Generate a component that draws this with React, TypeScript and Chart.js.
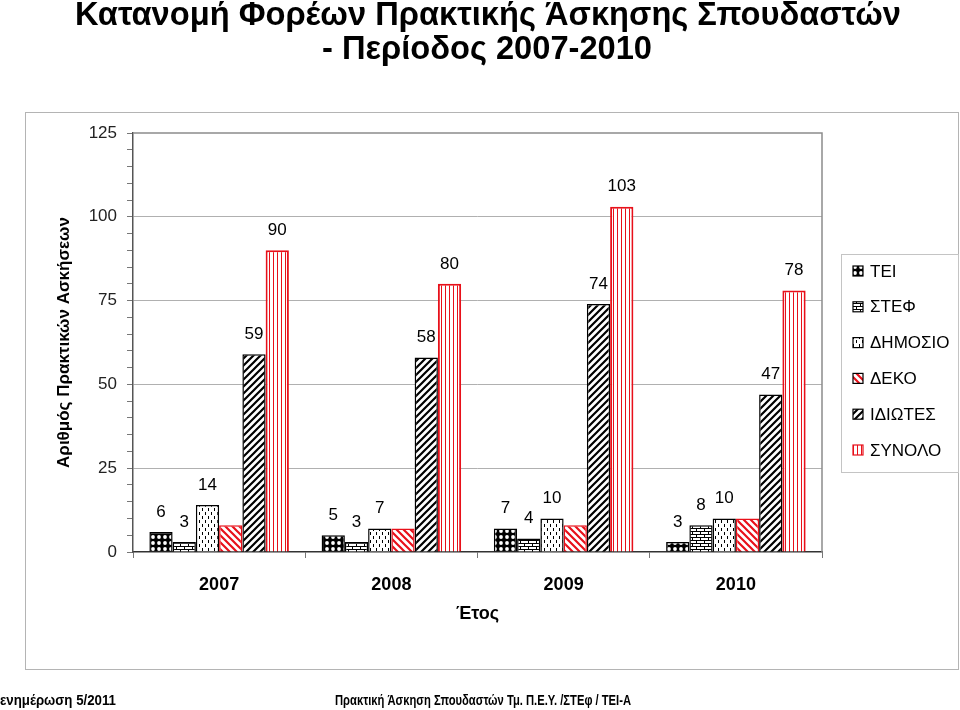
import React, { useEffect, useRef } from "react";
import { Chart, registerables } from "chart.js";
Chart.register(...registerables);

const years = ["2007", "2008", "2009", "2010"];
const seriesNames = ["ΤΕΙ", "ΣΤΕΦ", "ΔΗΜΟΣΙΟ", "ΔΕΚΟ", "ΙΔΙΩΤΕΣ", "ΣΥΝΟΛΟ"];
const tei = [6, 5, 7, 3];
const stef = [3, 3, 4, 8];
const dimosio = [14, 7, 10, 10];
const deko = [8, 7, 8, 10];
const idiotes = [59, 58, 74, 47];
const synolo = [90, 80, 103, 78];
const showValueLabels = [true, true, true, false, true, true];
const yMax = 125;
const yMajorStep = 25;
const yMinorStep = 5;

const titleLines = ["Κατανομή Φορέων Πρακτικής Άσκησης Σπουδαστών", "- Περίοδος 2007-2010"];
const yTitle = "Αριθμός Πρακτικών Ασκήσεων";
const xTitle = "Έτος";
const footerLeft = "ενημέρωση 5/2011";
const footerCenter = "Πρακτική Άσκηση Σπουδαστών Τμ. Π.Ε.Υ. /ΣΤΕφ / ΤΕΙ-Α";

const FONT = "'Liberation Sans', Arial, sans-serif";
const NARROW = "'Liberation Sans Narrow', 'Liberation Sans', Arial, sans-serif";
const RED = "#e8101a";

function makePattern(ctx: CanvasRenderingContext2D, w: number, h: number, draw: (c: CanvasRenderingContext2D) => void) {
  const t = document.createElement("canvas");
  t.width = w;
  t.height = h;
  const c = t.getContext("2d")!;
  draw(c);
  return ctx.createPattern(t, "repeat")!;
}

function buildPatterns(ctx: CanvasRenderingContext2D) {
  const teiP = makePattern(ctx, 6, 6, (c) => {
    c.fillStyle = "#000";
    c.fillRect(0, 0, 6, 6);
    c.fillStyle = "#fff";
    c.beginPath();
    c.arc(3, 3, 1.9, 0, Math.PI * 2);
    c.fill();
  });
  const stefP = makePattern(ctx, 8, 6, (c) => {
    c.fillStyle = "#fff";
    c.fillRect(0, 0, 8, 6);
    c.fillStyle = "#000";
    c.fillRect(0, 0, 8, 1);
    c.fillRect(0, 3, 8, 1);
    c.fillRect(0, 0, 1, 3);
    c.fillRect(4, 3, 1, 3);
  });
  const dimP = makePattern(ctx, 6, 8, (c) => {
    c.fillStyle = "#fff";
    c.fillRect(0, 0, 6, 8);
    c.fillStyle = "#000";
    c.fillRect(1, 0, 1, 3);
    c.fillRect(4, 4, 1, 3);
  });
  const diag = (color: string, back: boolean) =>
    makePattern(ctx, 7, 7, (c) => {
      c.fillStyle = "#fff";
      c.fillRect(0, 0, 7, 7);
      c.strokeStyle = color;
      c.lineWidth = 2.2;
      c.beginPath();
      if (back) {
        for (const o of [-7, 0, 7]) {
          c.moveTo(o - 1, -1);
          c.lineTo(o + 8, 8);
        }
      } else {
        for (const o of [-7, 0, 7]) {
          c.moveTo(o - 1, 8);
          c.lineTo(o + 8, -1);
        }
      }
      c.stroke();
    });
  const dekoP = diag(RED, true);
  const idP = diag("#000", false);
  const synP = makePattern(ctx, 4, 4, (c) => {
    c.fillStyle = "#fff";
    c.fillRect(0, 0, 4, 4);
    c.fillStyle = RED;
    c.fillRect(1, 0, 1, 4);
  });
  return [teiP, stefP, dimP, dekoP, idP, synP];
}

const framePlugin = {
  id: "frame",
  beforeDraw(chart: any) {
    const c = chart.ctx as CanvasRenderingContext2D;
    c.save();
    c.fillStyle = "#fff";
    c.fillRect(0, 0, chart.width, chart.height);
    c.strokeStyle = "#b4b4b4";
    c.lineWidth = 1;
    c.strokeRect(25.5, 112.5, 933, 557);
    // titles
    c.fillStyle = "#000";
    c.textAlign = "center";
    c.textBaseline = "middle";
    c.font = `bold 33px ${FONT}`;
    c.fillText(titleLines[0], 488, 16, 826);
    c.fillText(titleLines[1], 487, 50, 330);
    // footer
    c.font = `bold 15px ${NARROW}`;
    c.textAlign = "left";
    c.textBaseline = "alphabetic";
    c.fillText(footerLeft, 0, 705, 116);
    c.fillText(footerCenter, 335, 705, 296);
    c.restore();
  },
  beforeDatasetsDraw(chart: any) {
    const a = chart.chartArea;
    const c = chart.ctx as CanvasRenderingContext2D;
    c.save();
    c.strokeStyle = "#8c8c8c";
    c.lineWidth = 1.5;
    c.beginPath();
    c.moveTo(a.left, a.top);
    c.lineTo(a.right, a.top);
    c.lineTo(a.right, a.bottom);
    c.stroke();
    c.restore();
  },
  afterDatasetsDraw(chart: any) {
    const c = chart.ctx as CanvasRenderingContext2D;
    c.save();
    c.fillStyle = "#000";
    c.font = `17px ${FONT}`;
    c.textAlign = "center";
    c.textBaseline = "middle";
    chart.data.datasets.forEach((ds: any, di: number) => {
      if (!showValueLabels[di]) return;
      const meta = chart.getDatasetMeta(di);
      meta.data.forEach((el: any, i: number) => {
        c.fillText(String(ds.data[i]), el.x, el.y - 20);
      });
    });
    // legend
    c.strokeStyle = "#c4c4c4";
    c.lineWidth = 1;
    c.strokeRect(841.5, 254.5, 117, 218);
    c.font = `17px ${FONT}`;
    c.textAlign = "left";
    chart.data.datasets.forEach((ds: any, di: number) => {
      const y = 271 + di * 35.8;
      c.fillStyle = ds.backgroundColor;
      c.fillRect(853, y - 5, 10, 10);
      c.strokeStyle = ds.legendBorder;
      c.lineWidth = 1.2;
      c.strokeRect(853, y - 5, 10, 10);
      c.fillStyle = "#000";
      c.fillText(ds.label, 870, y + 1);
    });
    c.restore();
  },
};

export default function App() {
  const ref = useRef<HTMLCanvasElement | null>(null);
  useEffect(() => {
    const canvas = ref.current!;
    const ctx = canvas.getContext("2d")!;
    const pats = buildPatterns(ctx);
    const values = [tei, stef, dimosio, deko, idiotes, synolo];
    const borders = ["#000", "#000", "#000", RED, "#000", RED];
    const legendBorders = ["#000", "#000", "#000", "#000", "#000", RED];
    const chart = new Chart(ctx, {
      type: "bar",
      data: {
        labels: years,
        datasets: seriesNames.map((name, i) => ({
          label: name,
          data: values[i],
          backgroundColor: pats[i] as any,
          borderColor: borders[i],
          borderWidth: i === 5 ? 2 : 1.5,
          legendBorder: legendBorders[i],
          categoryPercentage: 0.81,
          barPercentage: 1.0,
        })) as any,
      },
      options: {
        animation: false,
        responsive: false,
        devicePixelRatio: 1,
        layout: { padding: { left: 50, top: 133, right: 138, bottom: 81 } },
        plugins: { legend: { display: false }, title: { display: false }, tooltip: { enabled: false } },
        scales: {
          x: {
            grid: { display: true, drawOnChartArea: false, offset: true, tickLength: 6, tickColor: "#777" },
            border: { display: true, color: "#333", width: 1.5 },
            ticks: { font: { family: FONT, size: 18, weight: "bold" }, color: "#000", padding: 16 },
            title: { display: true, text: xTitle, font: { family: FONT, size: 18, weight: "bold" }, color: "#000", padding: { top: 4, bottom: 4 } },
            afterFit: (s: any) => {
              s.height = 77;
            },
          },
          y: {
            min: 0,
            max: yMax,
            grid: {
              color: (c: any) =>
                c.tick && c.tick.value % yMajorStep === 0 && c.tick.value > 0 && c.tick.value < yMax ? "#b0b0b0" : "rgba(0,0,0,0)",
              tickColor: "#777",
              tickLength: 6,
              lineWidth: 1,
            },
            border: { display: true, color: "#555", width: 1.5 },
            ticks: {
              stepSize: yMinorStep,
              autoSkip: false,
              padding: 10,
              font: { family: FONT, size: 17 },
              color: "#222",
              callback: (v: any) => (Number(v) % yMajorStep === 0 ? String(v) : ""),
            },
            title: { display: true, text: yTitle, font: { family: FONT, size: 17, weight: "bold" }, color: "#000", padding: { top: 4, bottom: 4 } },
            afterFit: (s: any) => {
              s.width = 83;
            },
          },
        },
      } as any,
      plugins: [framePlugin],
    });
    return () => chart.destroy();
  }, []);
  return (
    <div style={{ position: "fixed", left: 0, top: 0, width: 960, height: 710, background: "#fff" }}>
      <canvas ref={ref} width={960} height={710} style={{ display: "block", width: 960, height: 710 }} />
    </div>
  );
}
